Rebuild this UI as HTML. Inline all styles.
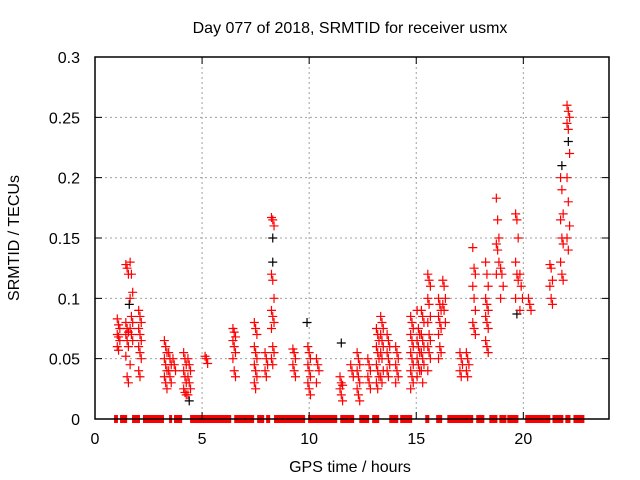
<!DOCTYPE html>
<html><head><meta charset="utf-8"><style>
html,body{margin:0;padding:0;background:#fff;}
svg{display:block;font-family:"Liberation Sans",sans-serif;}
</style></head><body>
<svg id="chart" width="640" height="480" xmlns="http://www.w3.org/2000/svg">
<text x="350" y="33" text-anchor="middle" font-size="16">Day 077 of 2018, SRMTID for receiver usmx</text>
<text x="350" y="472" text-anchor="middle" font-size="16">GPS time / hours</text>
<text transform="translate(19,238) rotate(-90)" text-anchor="middle" font-size="16">SRMTID / TECUs</text>
<g id="grid"></g><g id="marks"></g><g id="axes"></g>
</svg>
<script>
const xTicks=[0,5,10,15,20];
const yTicks=[0,0.05,0.1,0.15,0.2,0.25,0.3];
const yTickLabels=["0","0.05","0.1","0.15","0.2","0.25","0.3"];
const clusterHours=[1.1,1.5,1.7,2.1,3.3,3.5,3.7,4.2,4.4,5.2,6.5,7.5,8.0,8.3,9.3,10.0,10.4,11.5,12.0,12.3,12.8,13.2,13.4,13.7,14.1,14.8,15.1,15.3,15.6,16.1,16.3,17.1,17.4,17.7,18.3,18.8,19.0,19.7,19.9,20.3,21.3,21.8,22.1];
const clusterValues=[
[0.083,0.078,0.075,0.07,0.068,0.065,0.06,0.057],
[0.128,0.125,0.12,0.08,0.075,0.072,0.07,0.065,0.06,0.052,0.035,0.03],
[0.13,0.12,0.105,0.1,0.085,0.08,0.075,0.07,0.065,0.045],
[0.09,0.085,0.08,0.075,0.07,0.065,0.06,0.055,0.05,0.04,0.035],
[0.065,0.06,0.055,0.05,0.045,0.04,0.035,0.03,0.025],
[0.055,0.05,0.045,0.04,0.035,0.03],
[0.05,0.045,0.04],
[0.055,0.05,0.045,0.04,0.035,0.03,0.025,0.022,0.02],
[0.05,0.045,0.04,0.035,0.03,0.025,0.02],
[0.052,0.05,0.046],
[0.075,0.072,0.068,0.065,0.06,0.055,0.05,0.04,0.035],
[0.08,0.075,0.07,0.06,0.055,0.05,0.045,0.04,0.035,0.03,0.025],
[0.055,0.05,0.045,0.04,0.035],
[0.167,0.165,0.16,0.12,0.115,0.1,0.09,0.085,0.08,0.075,0.06,0.055,0.05,0.045],
[0.058,0.055,0.05,0.045,0.04,0.035],
[0.06,0.055,0.05,0.045,0.04,0.035,0.03,0.025,0.02],
[0.05,0.045,0.04,0.03],
[0.035,0.03,0.028,0.025,0.02,0.015],
[0.045,0.04,0.035],
[0.055,0.05,0.045,0.04,0.035,0.03,0.025,0.02,0.015],
[0.05,0.045,0.04,0.035,0.03,0.025],
[0.075,0.07,0.065,0.06,0.055,0.05,0.045,0.04,0.035,0.03,0.025],
[0.085,0.08,0.075,0.07,0.065,0.06,0.055,0.05,0.04,0.035,0.03],
[0.07,0.065,0.06,0.055,0.05,0.045,0.04,0.035],
[0.06,0.055,0.05,0.045,0.04,0.035,0.03],
[0.085,0.08,0.075,0.07,0.065,0.06,0.055,0.05,0.045,0.04,0.035,0.03,0.025],
[0.09,0.075,0.07,0.065,0.06,0.055,0.05,0.045,0.04,0.035],
[0.09,0.085,0.08,0.07,0.065,0.06,0.055,0.05,0.045,0.04,0.03],
[0.12,0.115,0.11,0.1,0.095,0.085,0.08,0.07,0.065,0.06,0.055,0.05,0.04],
[0.1,0.095,0.09,0.085,0.08,0.075,0.07,0.06,0.055,0.05],
[0.115,0.11,0.1,0.095,0.09,0.08],
[0.055,0.05,0.045,0.04,0.035],
[0.055,0.05,0.045,0.04,0.035],
[0.142,0.125,0.12,0.11,0.1,0.09,0.08,0.075,0.07],
[0.13,0.12,0.11,0.1,0.095,0.09,0.085,0.08,0.075,0.065,0.06,0.055],
[0.183,0.165,0.15,0.145,0.14,0.13,0.12],
[0.125,0.12,0.11,0.1],
[0.17,0.165,0.15,0.13,0.12,0.115,0.1],
[0.12,0.11,0.1,0.09],
[0.1,0.095,0.09],
[0.128,0.125,0.115,0.11,0.1,0.095],
[0.2,0.19,0.17,0.165,0.15,0.145,0.13,0.12,0.115],
[0.26,0.255,0.25,0.245,0.24,0.22,0.2,0.18,0.16,0.15,0.14]];
const blackHours=[1.6,8.3,8.3,9.9,11.5,19.7,21.8,22.1,4.4];
const blackValues=[0.095,0.15,0.13,0.08,0.063,0.087,0.21,0.23,0.015];
const zeroStart=[0.89,1.17,1.73,2.24,3.46,3.69,4.44,6.50,7.57,7.99,8.36,9.95,11.45,12.34,12.94,13.74,14.25,15.42,15.93,16.45,17.80,18.41,18.88,19.25,20.09,21.36,21.96,22.34];
const zeroEnd=[1.07,1.50,2.10,3.22,3.60,4.07,6.36,7.43,7.90,8.18,9.81,11.31,12.10,12.80,13.27,14.16,14.81,15.61,16.21,17.66,18.18,18.79,19.21,19.77,21.26,21.87,22.20,22.85];

const L=95,R=609,T=57,B=419,XMAX=24,YMAX=0.3;
const sx=v=>L+v/XMAX*(R-L);
const sy=v=>B-v/YMAX*(B-T);
const NS="http://www.w3.org/2000/svg";
function mk(tag,attrs,parent){const e=document.createElementNS(NS,tag);for(const k in attrs)e.setAttribute(k,attrs[k]);parent.appendChild(e);return e;}
const grid=document.getElementById('grid'),marks=document.getElementById('marks'),axes=document.getElementById('axes');
xTicks.forEach((t,i)=>{
  const x=sx(t);
  if(t>0){const g=mk('line',{x1:x,x2:x,y1:T,y2:B,stroke:'#a0a0a0','stroke-dasharray':'2,3'},grid);
  
  }
  const tk=mk('path',{d:`M${x},${B}v-7M${x},${T}v7`,stroke:'#000'},axes);
  
  
  const lb=mk('text',{x:x,y:B+25,'text-anchor':'middle','font-size':16},axes);
  lb.textContent=t;
  
  
});
yTicks.forEach((t,i)=>{
  const y=sy(t);
  if(t>0&&t<0.3){const g=mk('line',{x1:L,x2:R,y1:y,y2:y,stroke:'#a0a0a0','stroke-dasharray':'2,3'},grid);
  
  }
  const tk=mk('path',{d:`M${L},${y}h7M${R},${y}h-7`,stroke:'#000'},axes);
  
  
  const lb=mk('text',{x:L-15,y:y+6,'text-anchor':'end','font-size':16},axes);
  lb.textContent=yTickLabels[i];
  
  
});
const frame=mk('rect',{x:L,y:T,width:R-L,height:B-T,fill:'none',stroke:'#000','stroke-width':1.5},axes);


zeroStart.forEach((s,i)=>{
  const r=mk('rect',{x:sx(s),y:B-4,width:Math.max(3,sx(zeroEnd[i])-sx(s)),height:8,fill:'#f00'},marks);
  
  
});
function plus(x,y,c){
  const p=mk('path',{d:`M${x-4.5},${y}h9M${x},${y-4.5}v9`,stroke:c,'stroke-width':1.2,fill:'none'},marks);
  
  
}
blackHours.forEach((h,i)=>plus(sx(h),sy(blackValues[i]),'#000'));
clusterHours.forEach((h,i)=>{
  clusterValues[i].forEach((v,j)=>{
    const dx=((j%3)-1)*0.06;
    plus(sx(h+dx),sy(v),'#f00');
  });
});
</script>
</body></html>
